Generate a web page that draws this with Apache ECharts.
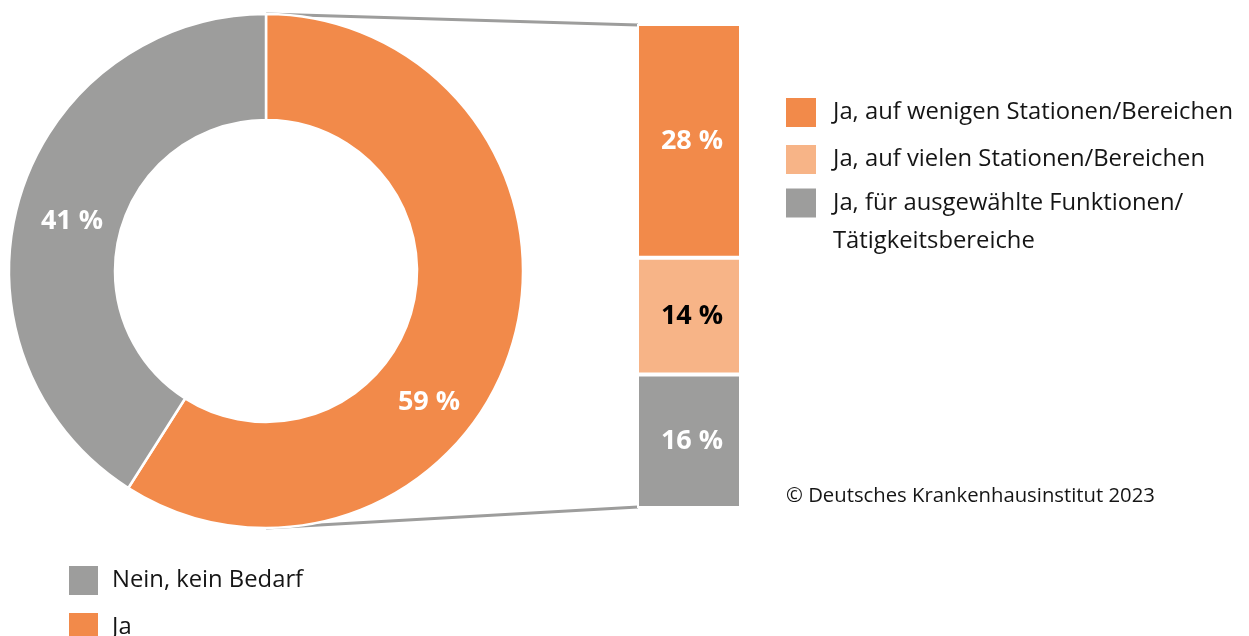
<!DOCTYPE html>
<html>
<head>
<meta charset="utf-8">
<script src="https://cdn.jsdelivr.net/npm/echarts@6/dist/echarts.min.js"></script>
<style>
html,body{margin:0;padding:0;background:#fff;}
#c{width:1249px;height:636px;}
</style>
</head>
<body>
<div id="c"></div>
<script>
// ---- data ----
var pieNames = ['Ja', 'Nein, kein Bedarf'];
var pieValues = [59, 41];
var barNames = ['Ja, für ausgewählte Funktionen/\nTätigkeitsbereiche', 'Ja, auf vielen Stationen/Bereichen', 'Ja, auf wenigen Stationen/Bereichen'];
var barValues = [16, 14, 28];
var source = '© Deutsches Krankenhausinstitut 2023';

var ORANGE = '#F28A4A', LIGHT = '#F7B487', GRAY = '#9D9D9C', TXT = '#151515';
var FONT = 'Open Sans';
var pieColors = [ORANGE, GRAY];
var barColors = [GRAY, LIGHT, ORANGE];
var barLabelColors = ['#ffffff', '#000000', '#ffffff'];

var chart = echarts.init(document.getElementById('c'), null, {renderer: 'canvas'});
var barTotal = barValues.reduce(function(a, b){return a + b;}, 0);

var PC = [266, 271], R_OUT = 257, R_IN = 151;
var G = {left: 637, top: 24, width: 104, height: 484};
var pieLabelPos = [[429, 402], [72, 221]];

var series = [{
  type: 'pie',
  center: PC,
  radius: [R_IN, R_OUT],
  startAngle: 90,
  clockwise: true,
  z: 5,
  data: pieNames.map(function(n, i){ return {name: n, value: pieValues[i], itemStyle: {color: pieColors[i]}}; }),
  itemStyle: {borderColor: '#fff', borderWidth: 2.5},
  label: {position: 'inside', formatter: '{c} %', color: '#fff', fontFamily: FONT, fontWeight: 'bold', fontSize: 27},
  labelLine: {show: false},
  labelLayout: function(p){ var q = pieLabelPos[p.dataIndex]; return {x: q[0], y: q[1], align: 'center', verticalAlign: 'middle'}; },
  emphasis: {disabled: true},
  silent: true
}];
barNames.forEach(function(n, i){
  series.push({
    type: 'bar', name: n, stack: 's',
    data: [barValues[i]],
    barCategoryGap: '0%',
    itemStyle: {color: barColors[i], borderColor: '#fff', borderWidth: 2},
    label: {show: true, position: 'inside', offset: [3, 0], formatter: '{c} %', color: barLabelColors[i], fontFamily: FONT, fontWeight: 'bold', fontSize: 27},
    emphasis: {disabled: true},
    silent: true
  });
});

var legendText = {fontFamily: FONT, fontSize: 23.8, color: TXT, padding: [0, 0, 0, 8]};
var rightText = {fontFamily: FONT, fontSize: 23.8, color: TXT, padding: [0, 0, 0, 11]};
var option = {
  animation: false,
  backgroundColor: '#fff',
  textStyle: {fontFamily: FONT},
  grid: G,
  xAxis: {type: 'category', data: [''], show: false},
  yAxis: {type: 'value', min: 0, max: barTotal, show: false},
  legend: [{
    orient: 'vertical', left: 62, top: 559, height: 120,
    itemWidth: 31, itemHeight: 31, itemGap: 14, icon: 'rect',
    data: [pieNames[1], pieNames[0]],
    textStyle: legendText,
    selectedMode: false
  }, {
    orient: 'vertical', left: 779, top: 91, height: 120,
    itemWidth: 32, itemHeight: 31, itemGap: 14, icon: 'rect',
    data: [barNames[2], barNames[1]],
    textStyle: rightText,
    selectedMode: false
  }, {
    orient: 'vertical', left: 779, top: 141, height: 200,
    itemWidth: 32, itemHeight: 31, icon: 'rect',
    data: [barNames[0]],
    formatter: function(n){ return '\n' + n; },
    textStyle: {fontFamily: FONT, fontSize: 23.8, color: TXT, lineHeight: 38, padding: [0, 0, 0, 11]},
    selectedMode: false
  }],
  series: series
};
chart.setOption(option);

// connector lines from the donut to the stacked bar
var topPx = chart.convertToPixel({yAxisIndex: 0}, barTotal);
var botPx = chart.convertToPixel({yAxisIndex: 0}, 0);
var barLeft = G.left + 1;
chart.setOption({
  graphic: [{
    type: 'text', left: 786, top: 486,
    style: {text: source, fontFamily: FONT, fontSize: 20.3, fill: TXT}
  }, {
    type: 'line', z: 1, silent: true,
    shape: {x1: PC[0], y1: PC[1] - R_OUT, x2: barLeft, y2: topPx + 1},
    style: {stroke: GRAY, lineWidth: 3}
  }, {
    type: 'line', z: 1, silent: true,
    shape: {x1: PC[0], y1: PC[1] + R_OUT, x2: barLeft, y2: botPx - 1},
    style: {stroke: GRAY, lineWidth: 3}
  }]
});
</script>
</body>
</html>
